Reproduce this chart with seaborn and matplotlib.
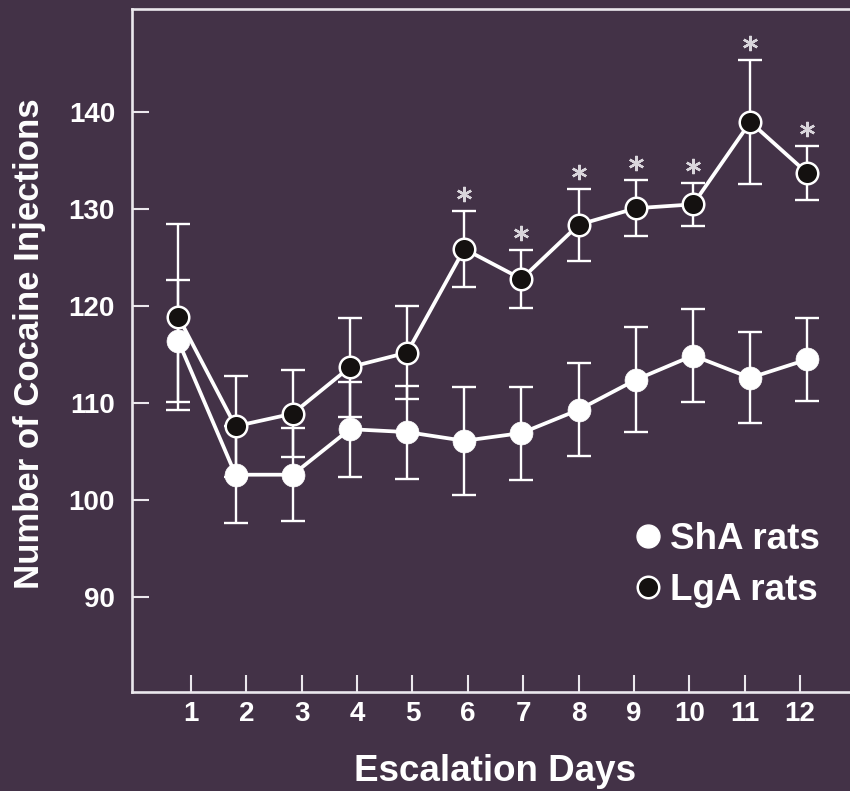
import numpy as np
import pandas as pd
import matplotlib
matplotlib.use("Agg")
import matplotlib.pyplot as plt
import matplotlib.transforms as mtransforms
from matplotlib.lines import Line2D
import seaborn as sns

# ---- data ----
days = [1, 2, 3, 4, 5, 6, 7, 8, 9, 10, 11, 12]
sha = [116.4, 102.6, 102.6, 107.3, 107.0, 106.1, 106.9, 109.3, 112.4, 114.9, 112.6, 114.5]
sha_err = [6.3, 5.0, 4.8, 4.9, 4.8, 5.6, 4.8, 4.8, 5.4, 4.8, 4.7, 4.3]
lga = [118.9, 107.6, 108.9, 113.7, 115.2, 125.9, 122.8, 128.4, 130.1, 130.5, 139.0, 133.7]
lga_err = [9.6, 5.2, 4.5, 5.1, 4.8, 3.9, 3.0, 3.7, 2.9, 2.2, 6.4, 2.8]
sig_days = [6, 7, 8, 9, 10, 11, 12]
y_ticks = [90, 100, 110, 120, 130, 140]
series_labels = ["ShA rats", "LgA rats"]
x_label = "Escalation Days"
y_label = "Number of Cocaine Injections"

BG = "#433247"
FG = "#ffffff"
AXC = "#ebe8ed"
STAR = "#d9d5db"
DARK = "#141110"

sns.set_theme(style="ticks")
plt.rcParams["font.family"] = ["Liberation Sans", "DejaVu Sans"]
plt.rcParams["font.weight"] = "bold"

fig = plt.figure(figsize=(8.5, 7.91), dpi=100, facecolor=BG)
W, H = 850, 791
ax_l, ax_r, ax_t, ax_b = 131.7, 870.0, 9.0, 691.7
ax = fig.add_axes([ax_l / W, 1 - ax_b / H, (ax_r - ax_l) / W, (ax_b - ax_t) / H])
ax.set_facecolor(BG)

df = pd.DataFrame({
    "day": days * 2,
    "value": sha + lga,
    "err": sha_err + lga_err,
    "group": [series_labels[0]] * len(days) + [series_labels[1]] * len(days),
})

# error bars (behind)
for grp, z in [(series_labels[1], 2), (series_labels[0], 3)]:
    d = df[df.group == grp]
    ax.errorbar(d.day, d.value, yerr=d.err, fmt="none", ecolor=FG,
                elinewidth=1.7, capsize=8.3, capthick=1.7, zorder=z)

# lines + markers via seaborn
d_l = df[df.group == series_labels[1]]
d_s = df[df.group == series_labels[0]]
sns.lineplot(data=d_l, x="day", y="value", ax=ax, color=FG, lw=2.7,
             marker="o", markersize=15.5, markerfacecolor=DARK,
             markeredgecolor=FG, markeredgewidth=1.8, zorder=4, legend=False)
sns.lineplot(data=d_s, x="day", y="value", ax=ax, color=FG, lw=2.7,
             marker="o", markersize=16.5, markerfacecolor=FG,
             markeredgecolor=FG, markeredgewidth=0.5, zorder=5, legend=False)

# significance stars above LgA caps
star_tr = mtransforms.offset_copy(ax.transData, fig=fig, x=0, y=17.3, units="dots")
sig = d_l[d_l.day.isin(sig_days)]
ax.plot(sig.day, sig.value + sig.err, linestyle="none", marker=(6, 2, 0),
        markersize=11, markeredgewidth=1.7, color=STAR, transform=star_tr,
        zorder=6, clip_on=False)

# axes / limits
x0_px = 178.3
px_per_day = 57.2
ax.set_xlim(1 + (ax_l - x0_px) / px_per_day, 1 + (ax_r - x0_px) / px_per_day)
y140, px_per_unit = 112.3, 9.69
ax.set_ylim(140 - (ax_b - y140) / px_per_unit, 140 + (y140 - ax_t) / px_per_unit)

tick_pos = [1 + (191.0 + (d - 1) * 55.36 - x0_px) / px_per_day for d in days]
ax.set_xticks(tick_pos)
ax.set_xticklabels([str(d) for d in days])
ax.set_yticks(y_ticks)
ax.set_yticklabels([str(v) for v in y_ticks])

for s in ["left", "top", "bottom"]:
    ax.spines[s].set_color(AXC)
    ax.spines[s].set_linewidth(1.9)
ax.spines["right"].set_visible(False)

ax.tick_params(axis="both", direction="in", length=12.5, width=1.5, color=AXC,
               labelcolor=FG, labelsize=20)
ax.tick_params(axis="x", pad=6.5)
ax.tick_params(axis="y", pad=12)
for lab in ax.get_xticklabels() + ax.get_yticklabels():
    lab.set_fontweight("bold")

ax.set_xlabel(x_label, fontsize=26.5, fontweight="bold", color=FG)
ax.xaxis.set_label_coords((495 - ax_l) / (ax_r - ax_l), -(754 - ax_b) / (ax_b - ax_t))
ax.set_ylabel(y_label, fontsize=25, fontweight="bold", color=FG)
ax.yaxis.set_label_coords((46 - ax_l) / (ax_r - ax_l), (ax_b - 344) / (ax_b - ax_t))

# legend
handles = [
    Line2D([], [], linestyle="none", marker="o", markersize=16.5,
           markerfacecolor=FG, markeredgecolor=FG),
    Line2D([], [], linestyle="none", marker="o", markersize=15.5,
           markerfacecolor=DARK, markeredgecolor=FG, markeredgewidth=1.8),
]
leg = ax.legend(handles, series_labels, loc="upper left",
                bbox_to_anchor=(629.6 / W, 1 - 522 / H), bbox_transform=fig.transFigure,
                frameon=False, borderpad=0, borderaxespad=0, handlelength=1.0,
                handletextpad=0.1, labelspacing=0.44,
                prop={"size": 26.5, "weight": "bold"})
for t in leg.get_texts():
    t.set_color(FG)

fig.savefig("out.png", dpi=100, facecolor=BG)
